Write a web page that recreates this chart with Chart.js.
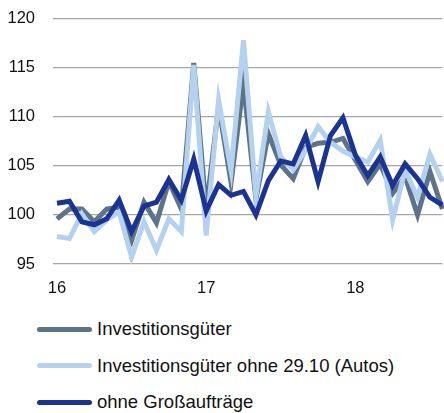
<!DOCTYPE html>
<html>
<head>
<meta charset="utf-8">
<script src="https://cdn.jsdelivr.net/npm/chart.js@4/dist/chart.umd.min.js"></script>
<style>
  body { margin: 0; background: #fff; font-family: "Liberation Sans", Arial, sans-serif; }
  #wrap { position: relative; width: 444px; height: 413px; }
  #box { position: absolute; left: 0; top: 0; width: 444px; height: 310px; }
  #legend { position: absolute; left: 37px; top: 311px; }
  .row { height: 36.5px; display: flex; align-items: center; font-size: 18.5px; color: #111; }
  .swatch { width: 55px; height: 5px; border-radius: 3px; margin-right: 5px; }
</style>
</head>
<body>
<div id="wrap">
  <div id="box"><canvas id="chart" width="444" height="310"></canvas></div>
  <div id="legend"></div>
</div>
<script>
// monthly, Jan 2016 .. Aug 2018
const months = [];
for (let y = 16; y <= 18; y++) {
  for (let m = 1; m <= 12; m++) {
    if (y === 18 && m > 8) break;
    months.push(y + '-' + (m < 10 ? '0' + m : m));
  }
}

const investitionsgueter = [
  99.6, 100.6, 100.6, 99.3, 100.6, 100.8, 97.4, 101.3, 99.2, 103.4, 100.6, 115.5,
  100.5, 111.1, 103.3, 113.4, 101.6, 108.3, 105.1, 103.7, 106.9, 107.3, 107.4, 107.8,
  105.6, 103.4, 105.2, 102.2, 103.9, 100.0, 104.4, 100.6
];
const ohneAutos = [
  97.8, 97.6, 100.1, 98.3, 99.5, 100.3, 95.7, 99.3, 96.4, 99.6, 98.3, 115.3,
  97.9, 111.7, 104.5, 117.8, 101.9, 110.5, 105.9, 104.6, 106.6, 109.0, 107.4, 106.5,
  105.9, 105.4, 107.6, 99.5, 104.6, 101.8, 106.2, 103.4
];
const ohneGross = [
  101.2, 101.4, 99.3, 99.0, 99.6, 101.5, 98.3, 100.9, 101.3, 103.6, 101.5, 105.7,
  100.4, 103.1, 102.0, 102.4, 100.0, 103.5, 105.5, 105.2, 108.1, 103.4, 108.1, 109.9,
  106.1, 104.0, 105.9, 103.0, 105.2, 103.7, 101.8, 101.0
];

const series = [
  { label: 'Investitionsgüter', data: investitionsgueter, color: '#5d7387', order: 3 },
  { label: 'Investitionsgüter ohne 29.10 (Autos)', data: ohneAutos, color: '#b4d2ef', order: 2 },
  { label: 'ohne Großaufträge', data: ohneGross, color: '#1b3494', order: 1 }
];

new Chart(document.getElementById('chart'), {
  type: 'line',
  data: {
    labels: months,
    datasets: series.map(s => ({
      label: s.label,
      data: s.data,
      borderColor: s.color,
      backgroundColor: s.color,
      borderWidth: 5,
      pointRadius: 0,
      tension: 0,
      fill: false,
      order: s.order
    }))
  },
  options: {
    responsive: false,
    animation: false,
    layout: { padding: { top: 18.7, right: 1.6, bottom: 13, left: 0 } },
    plugins: { legend: { display: false }, tooltip: { enabled: false } },
    scales: {
      x: {
        offset: false,
        grid: { display: false, drawTicks: false },
        border: { display: false },
        afterFit: function (axis) {
          axis.height = 33;
          axis.paddingLeft = 0;
          axis.paddingRight = 0;
        },
        ticks: {
          autoSkip: false,
          maxRotation: 0,
          padding: 15,
          color: '#111',
          font: { family: 'Liberation Sans', size: 16.5 },
          callback: function (v, i) {
            const l = months[i];
            return l.endsWith('-01') ? l.slice(0, 2) : '';
          }
        }
      },
      y: {
        min: 95,
        max: 120,
        afterFit: function (axis) {
          axis.width = 57;
          axis.paddingTop = 0;
          axis.paddingBottom = 0;
        },
        ticks: {
          stepSize: 5,
          padding: 18,
          color: '#111',
          font: { family: 'Liberation Sans', size: 16.5 }
        },
        grid: { color: '#a6a6a6', lineWidth: 1.3, drawTicks: true, tickLength: 4 },
        border: { display: false }
      }
    }
  }
});

const legend = document.getElementById('legend');
series.forEach(s => {
  const row = document.createElement('div');
  row.className = 'row';
  const sw = document.createElement('div');
  sw.className = 'swatch';
  sw.style.background = s.color;
  const t = document.createElement('span');
  t.textContent = s.label;
  row.appendChild(sw);
  row.appendChild(t);
  legend.appendChild(row);
});
</script>
</body>
</html>
